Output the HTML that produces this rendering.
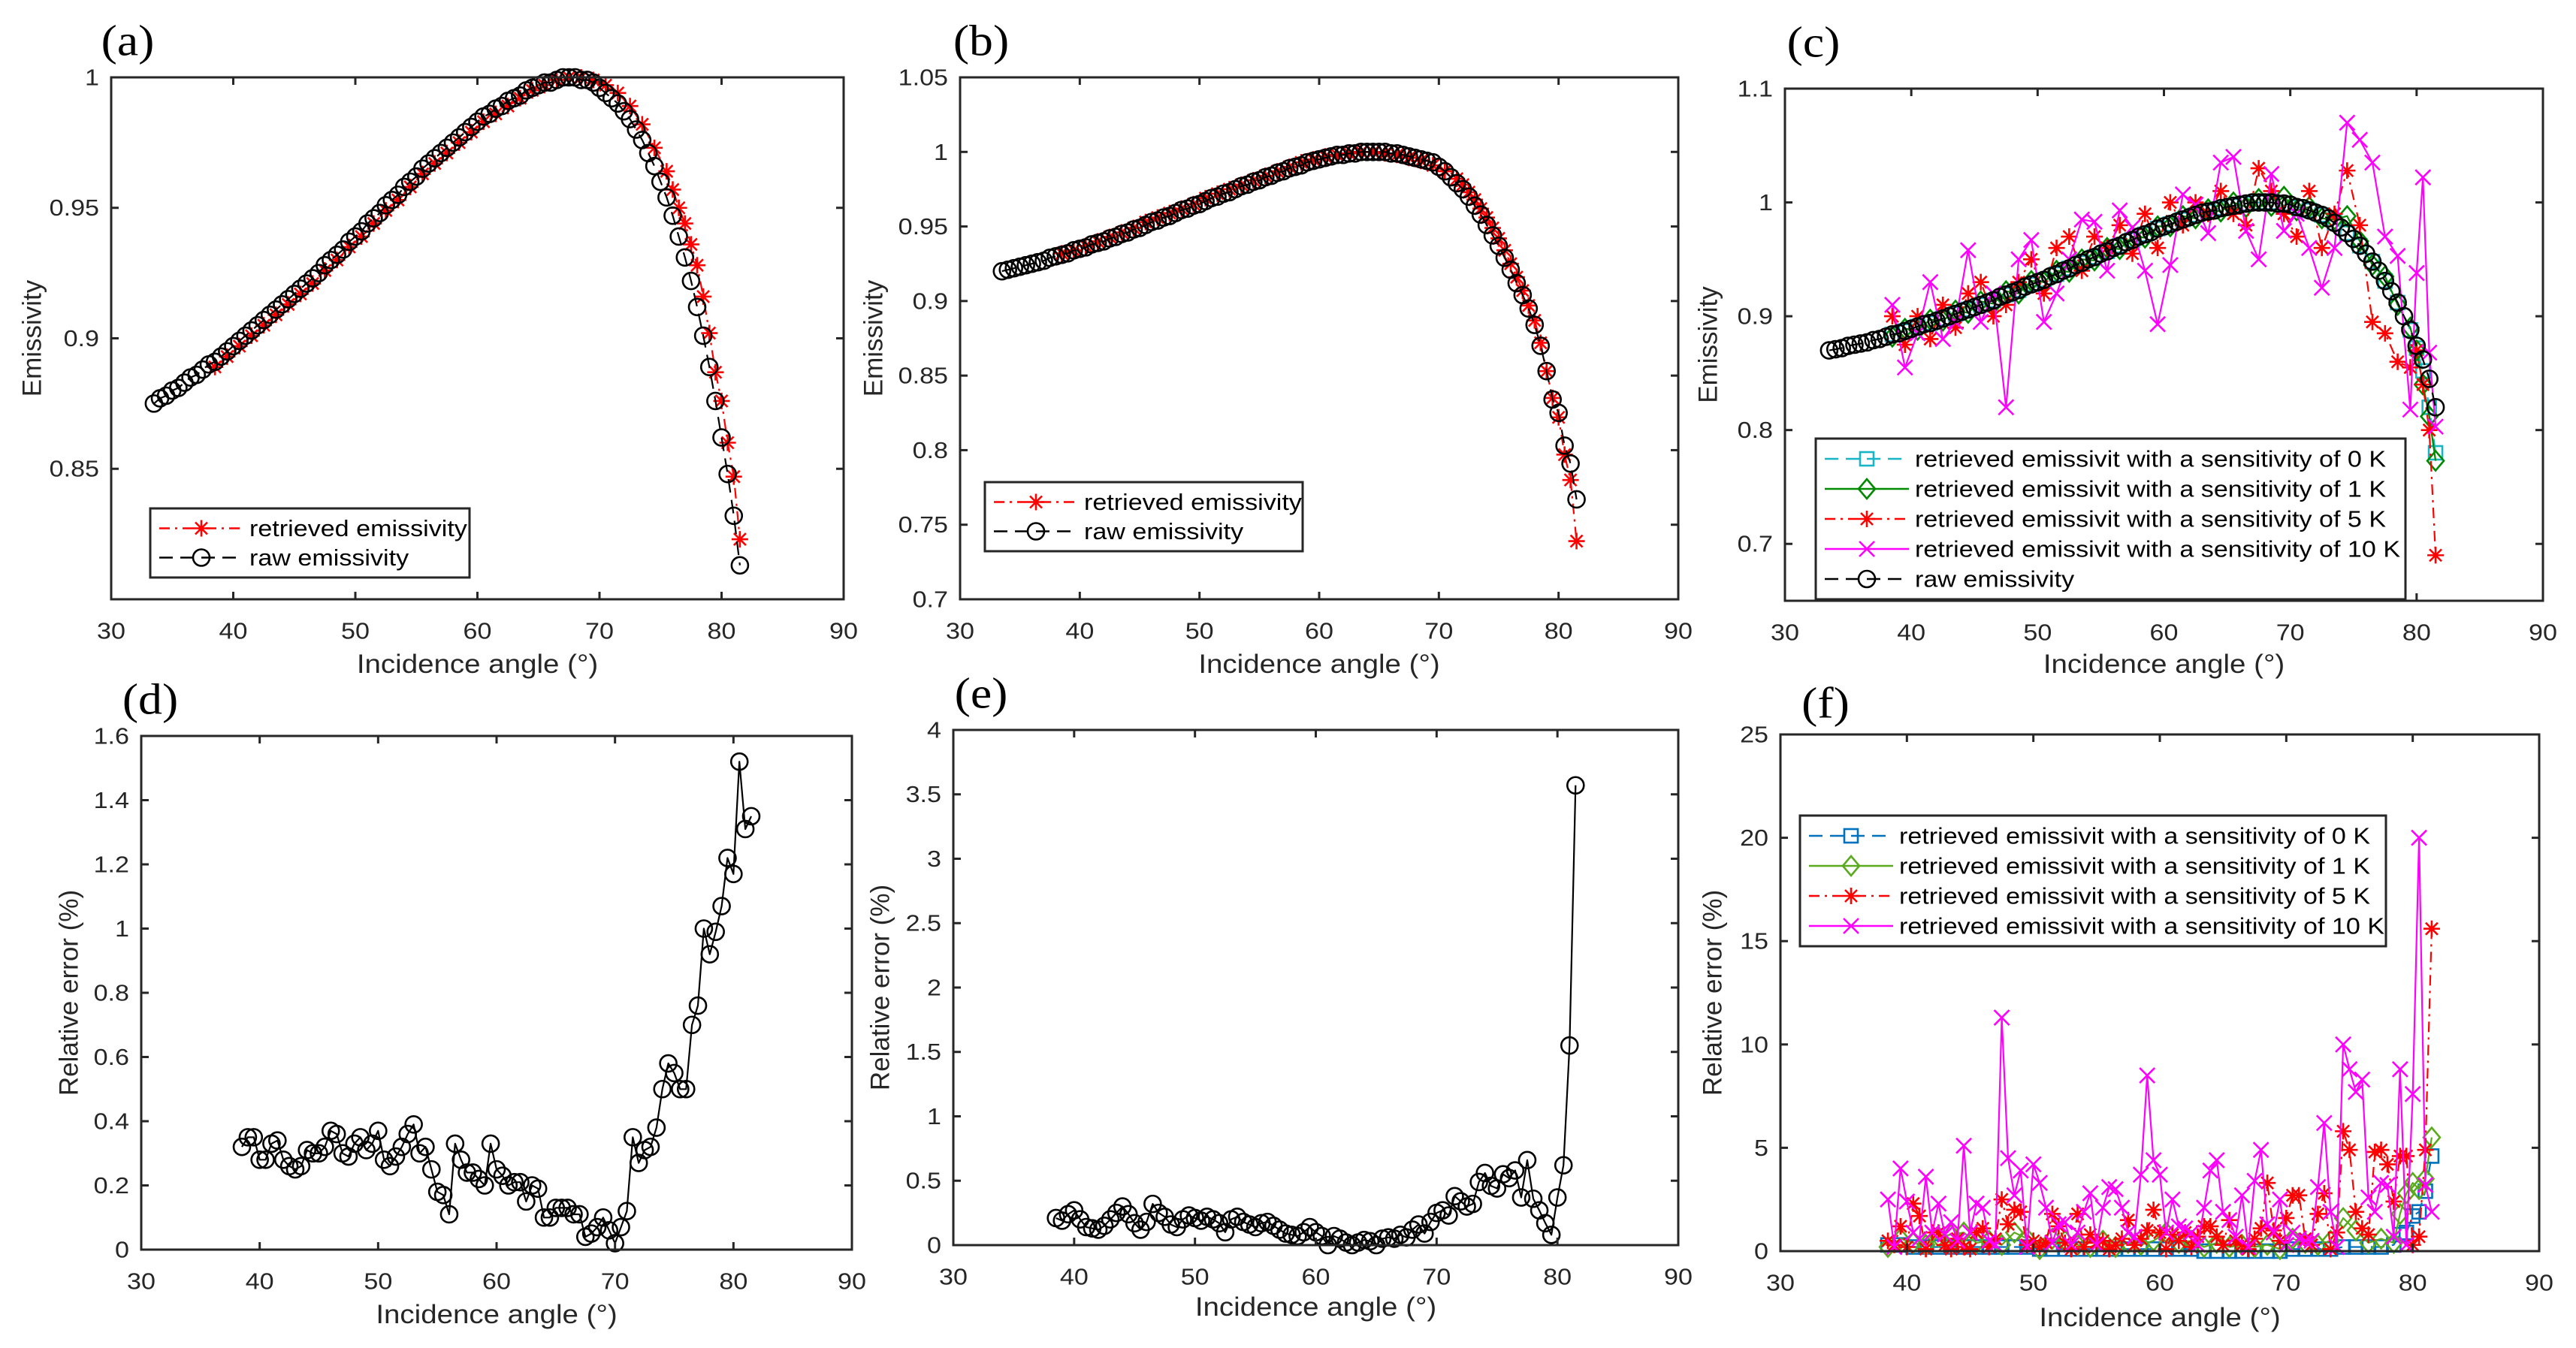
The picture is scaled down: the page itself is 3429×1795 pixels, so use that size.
<!DOCTYPE html>
<html><head><meta charset="utf-8"><title>Emissivity figure</title>
<style>
html,body{margin:0;padding:0;background:#fff;}
svg{display:block;}
text{font-family:"Liberation Sans",Arial,sans-serif;fill:#262626;}
.serif{font-family:"Liberation Serif","Times New Roman",serif;fill:#000;}
</style></head>
<body>
<svg id="fig" xmlns="http://www.w3.org/2000/svg" width="3429" height="1795" viewBox="0 0 3429 1795">
<rect x="0" y="0" width="3429" height="1795" fill="#fff"/>
</svg>
<script>
// ---------------- DATA ----------------
const xTicks = [30,40,50,60,70,80,90];
const xTickLabels = ["30","40","50","60","70","80","90"];

// (a)
const aRawStart = 33.5;
const aRawValues = [.875,.877,.878,.880,.881,.883,.885,.886,.888,.890,.891,.893,.895,.897,.899,.901,.903,.905,.907,.909,.911,.913,.915,.917,.919,.921,.923,.925,.928,.930,.932,.934,.937,.939,.941,.944,.946,.948,.951,.953,.955,.958,.960,.962,.965,.967,.969,.971,.973,.975,.977,.979,.981,.983,.985,.986,.988,.989,.991,.992,.993,.995,.996,.997,.998,.998,.999,1.0,1.0,1.0,.999,.999,.998,.996,.994,.992,.990,.987,.984,.980,.976,.971,.966,.960,.954,.947,.939,.931,.922,.912,.901,.889,.876,.862,.848,.832,.813];
const aRetAngles = [38.5,39.5,40.5,41.5,42.5,43.5,44.5,45.5,46.5,47.5,48.5,49.5,50.5,51.5,52.5,53.5,54.5,55.5,56.5,57.5,58.5,59.5,60.5,61.5,62.5,63.5,64.5,65.5,66.5,67.5,68.5,69.5,70.5,71.5,72.5,73.5,74.5,75.5,76,76.5,77,77.5,78,78.5,79,79.5,80,80.5,81,81.5];
const aRetValues = [.889,.893,.897,.901,.905,.909,.913,.917,.921,.926,.930,.935,.939,.944,.949,.953,.958,.963,.967,.971,.975,.979,.983,.986,.989,.992,.995,.997,.999,1.0,1.0,.999,.997,.994,.989,.982,.973,.964,.957,.950,.944,.936,.928,.916,.902,.887,.876,.860,.847,.823];
const aYTicks = [0.85,0.9,0.95,1];
const aYTickLabels = ["0.85","0.9","0.95","1"];

// (b)
const bRawStart = 33.5;
const bRawValues = [.920,.921,.922,.923,.924,.925,.926,.927,.929,.930,.931,.932,.934,.935,.936,.938,.939,.940,.942,.943,.945,.946,.948,.949,.951,.953,.954,.956,.957,.959,.961,.962,.964,.965,.967,.969,.970,.972,.973,.975,.977,.978,.980,.981,.983,.984,.986,.987,.989,.990,.991,.993,.994,.995,.996,.997,.998,.998,.999,.999,1.0,1.0,1.0,1.0,1.0,.999,.999,.998,.997,.996,.995,.994,.993,.990,.987,.983,.979,.975,.970,.964,.958,.951,.944,.937,.929,.921,.912,.904,.895,.884,.870,.853,.834,.825,.803,.791,.767];
const bRetAngles = [38.5,39.5,40.5,41.5,42.5,43.5,44.5,45.5,46.5,47.5,48.5,49.5,50.5,51.5,52.5,53.5,54.5,55.5,56.5,57.5,58.5,59.5,60.5,61.5,62.5,63.5,64.5,65.5,66.5,67.5,68.5,69.5,70.5,71.5,72,72.5,73,73.5,74,74.5,75,75.5,76,76.5,77,77.5,78,78.5,79,79.5,80,80.5,81,81.5];
const bRetValues = [.932,.934,.937,.940,.943,.946,.949,.953,.956,.959,.962,.965,.969,.972,.975,.978,.981,.984,.987,.990,.993,.995,.997,.998,.999,1.0,1.0,.999,.998,.996,.994,.991,.987,.982,.978,.973,.968,.962,.956,.949,.942,.934,.925,.916,.907,.897,.887,.872,.853,.835,.822,.797,.780,.739];
const bYTicks = [0.7,0.75,0.8,0.85,0.9,0.95,1,1.05];
const bYTickLabels = ["0.7","0.75","0.8","0.85","0.9","0.95","1","1.05"];

// (c)
const cRawStart = 33.5;
const cRawValues = [.870,.871,.872,.874,.875,.876,.877,.879,.880,.882,.884,.885,.887,.889,.891,.893,.894,.896,.898,.900,.902,.904,.906,.908,.910,.912,.914,.917,.919,.921,.923,.926,.928,.930,.932,.935,.937,.940,.942,.945,.947,.950,.952,.955,.957,.960,.962,.965,.967,.970,.972,.974,.977,.979,.981,.983,.985,.987,.989,.991,.992,.993,.995,.996,.997,.998,.999,1.0,1.0,1.0,1.0,.999,.999,.998,.996,.995,.993,.991,.989,.986,.982,.978,.973,.968,.962,.955,.948,.940,.931,.922,.912,.900,.888,.874,.862,.845,.820];
const cAngles = [38.5,39.5,40.5,41.5,42.5,43.5,44.5,45.5,46.5,47.5,48.5,49.5,50.5,51.5,52.5,53.5,54.5,55.5,56.5,57.5,58.5,59.5,60.5,61.5,62.5,63.5,64.5,65.5,66.5,67.5,68.5,69.5,70.5,71.5,72.5,73.5,74.5,75.5,76.5,77.5,78.5,79.5,80,80.5,81,81.5];
const c0KValues = [.884,.887,.891,.894,.898,.902,.906,.910,.914,.919,.923,.928,.932,.937,.942,.947,.952,.957,.962,.967,.972,.977,.981,.985,.989,.992,.995,.997,.999,1.0,1.0,.999,.996,.993,.989,.982,.973,.962,.948,.931,.912,.888,.872,.852,.820,.780];
const c1KValues = [.882,.889,.888,.897,.896,.905,.903,.913,.911,.922,.920,.931,.930,.940,.939,.950,.949,.960,.959,.970,.969,.979,.979,.988,.986,.994,.992,1.0,.996,1.003,.997,1.005,.993,.996,.986,.985,.988,.966,.945,.935,.910,.890,.870,.840,.812,.773];
const c5KValues = [.900,.875,.900,.880,.910,.890,.920,.930,.900,.910,.930,.950,.920,.960,.970,.940,.970,.960,.980,.955,.990,.960,1.0,.980,1.0,.990,1.010,.990,.980,1.030,1.010,.990,.970,1.010,.960,.990,1.028,.980,.895,.885,.860,.855,.870,.840,.800,.690];
const c10KValues = [.910,.855,.885,.930,.880,.895,.958,.895,.920,.820,.950,.967,.895,.920,.950,.985,.983,.940,.993,.978,.940,.893,.945,1.007,.998,.973,1.035,1.040,.975,.950,1.025,.975,.990,.960,.925,.960,1.070,1.055,1.035,.970,.953,.818,.938,1.022,.868,.803];
const cYTicks = [0.7,0.8,0.9,1,1.1];
const cYTickLabels = ["0.7","0.8","0.9","1","1.1"];

// (d)
const dStart = 38.5;
const dValues = [.32,.35,.35,.28,.28,.33,.34,.28,.26,.25,.26,.31,.30,.30,.32,.37,.36,.30,.29,.33,.35,.31,.33,.37,.28,.26,.29,.32,.36,.39,.30,.32,.25,.18,.17,.11,.33,.28,.24,.24,.22,.20,.33,.25,.23,.20,.21,.21,.15,.20,.19,.10,.10,.13,.13,.13,.11,.11,.04,.05,.07,.10,.06,.02,.07,.12,.35,.27,.31,.32,.38,.50,.58,.55,.50,.50,.70,.76,1.0,.92,.99,1.07,1.22,1.17,1.52,1.31,1.35];
const dYTicks = [0,0.2,0.4,0.6,0.8,1,1.2,1.4,1.6];
const dYTickLabels = ["0","0.2","0.4","0.6","0.8","1","1.2","1.4","1.6"];

// (e)
const eStart = 38.5;
const eValues = [.21,.19,.24,.27,.20,.14,.13,.12,.15,.20,.25,.30,.24,.17,.12,.18,.32,.25,.22,.16,.14,.20,.23,.21,.19,.22,.20,.17,.10,.20,.22,.18,.16,.14,.17,.18,.15,.12,.09,.08,.07,.10,.14,.10,.07,.00,.07,.05,.02,.00,.02,.04,.03,.00,.05,.06,.05,.08,.06,.12,.16,.09,.18,.25,.27,.23,.38,.34,.30,.32,.49,.56,.46,.44,.55,.52,.58,.37,.66,.36,.27,.17,.08,.37,.62,1.55,3.57];
const eYTicks = [0,0.5,1,1.5,2,2.5,3,3.5,4];
const eYTickLabels = ["0","0.5","1","1.5","2","2.5","3","3.5","4"];

// (f)
const fAngles = [38.5,39.5,40.5,41.5,42.5,43.5,44.5,45.5,46.5,47.5,48.5,49.5,50.5,51.5,52.5,53.5,54.5,55.5,56.5,57.5,58.5,59.5,60.5,61.5,62.5,63.5,64.5,65.5,66.5,67.5,68.5,69.5,70.5,71.5,72.5,73.5,74.5,75.5,76.5,77.5,78.5,79,79.5,80,80.5,81,81.5];
const f0KValues = [.3,.3,.2,.2,.2,.2,.2,.2,.2,.2,.2,.2,.1,.1,.1,.1,.1,.1,.1,.1,.1,.1,.1,.1,.1,.0,.0,.0,.0,.0,.0,.0,.1,.1,.1,.1,.2,.2,.2,.2,.3,.8,.9,1.7,1.9,2.9,4.6];
const f1KValues = [.2,.6,.4,.3,.7,.8,.9,.4,.5,.3,.9,.6,.1,.6,.5,.3,.2,.5,.2,.4,.3,.5,.9,.4,.5,.2,.4,.2,.3,.2,.3,.1,.6,.4,.3,.5,1.6,1.0,.4,.6,.4,1.8,2.8,3.3,3.0,3.5,5.5];
const f5Start = 38.5;
const f5KValues = [.5,.3,1.2,.2,2.3,1.7,.1,.9,.9,.3,.1,.6,.2,.1,.9,1.1,.2,.6,2.5,1.3,2.0,1.9,.3,.5,.2,.4,1.8,1.2,.4,.1,1.8,.2,.8,.4,.5,.1,.3,.6,1.5,.3,.6,1.0,2.0,.9,.1,.8,.5,.9,.2,.7,1.2,1.2,.7,.3,1.5,.5,.3,.1,.6,1.1,3.3,1.0,.5,1.6,2.7,2.7,.6,.3,1.8,2.8,.1,.9,5.8,4.9,1.9,1.1,.8,4.8,4.9,4.2,2.4,4.6,4.6,.3,.7,4.9,15.6];
const f10Start = 38.5;
const f10KValues = [2.5,.2,4.0,2.4,.9,.6,3.6,.9,2.3,.8,1.4,.5,5.1,.9,2.3,2.1,.5,.3,11.3,4.5,2.7,3.9,.2,4.2,3.3,2.1,.4,1.3,1.4,.3,.9,1.9,2.8,.3,2.1,3.1,3.0,2.1,.9,.7,3.7,8.5,4.4,3.7,.9,2.5,1.2,1.1,.9,.3,2.1,3.9,4.4,1.9,1.5,.7,2.7,.2,3.4,4.9,1.3,.9,2.5,.3,.9,.6,.5,.5,3.1,6.2,1.9,.2,10.0,8.8,7.7,8.3,2.6,1.9,3.3,3.2,.7,8.8,.3,7.6,20.0,3.2,1.9];
const fYTicks = [0,5,10,15,20,25];
const fYTickLabels = ["0","5","10","15","20","25"];

// ---------------- RENDER ----------------
const NS = "http://www.w3.org/2000/svg";
const svg = document.getElementById('fig');
const AX = "#262626";
const SX = 1.1; // horizontal text stretch

function mk(tag, attrs, parent){
  const el = document.createElementNS(NS, tag);
  for (const k in attrs) el.setAttribute(k, attrs[k]);
  (parent||svg).appendChild(el);
  return el;
}
function htext(parent, x, y, str, size, anchor, cls){
  const t = mk('text', {x:0, y:0, 'font-size':size, 'text-anchor':anchor||'middle', 'dominant-baseline':'central', transform:`translate(${x},${y}) scale(${SX},1)`}, parent);
  if (cls) t.setAttribute('class', cls);
  t.textContent = str;
  return t;
}
function seq(start, n){ const a=[]; for(let i=0;i<n;i++) a.push(start+i*0.5); return a; }

function makePanel(p){
  const g = mk('g', {});
  
  
  const sx = v => p.L + (v - 30) / 60 * (p.R - p.L);
  const sy = v => p.B - (v - p.ymin) / (p.ymax - p.ymin) * (p.B - p.T);
  const cid = 'clip-' + p.name;
  const cp = mk('clipPath', {id: cid}, g);
  mk('rect', {x:p.L-30, y:p.T-40, width:p.R-p.L+60, height:p.B-p.T+60}, cp);
  const plot = mk('g', {'clip-path':`url(#${cid})`}, g);
  
  
  const tk = mk('g', {stroke:AX, 'stroke-width':3}, g);
  
  
  xTicks.forEach((v,i) => {
    const x = sx(v);
    mk('line', {x1:x, y1:p.B, x2:x, y2:p.B-10}, tk);
    mk('line', {x1:x, y1:p.T, x2:x, y2:p.T+10}, tk);
    const t = htext(g, x, p.B + 42, xTickLabels[i], 31);
    
    
  });
  p.yticks.forEach((v,i) => {
    const y = sy(v);
    mk('line', {x1:p.L, y1:y, x2:p.L+10, y2:y}, tk);
    mk('line', {x1:p.R, y1:y, x2:p.R-10, y2:y}, tk);
    const t = htext(g, p.L - 16, y, p.ylabels[i], 31, 'end');
    
    
  });
  const box = mk('rect', {x:p.L, y:p.T, width:p.R-p.L, height:p.B-p.T, fill:'none', stroke:AX, 'stroke-width':3}, g);
  
  
  const xl = htext(g, (p.L+p.R)/2, p.xlabY, 'Incidence angle (°)', 35);
  
  
  const yl = mk('text', {x:0, y:0, 'font-size':35, 'text-anchor':'middle', 'dominant-baseline':'central', transform:`translate(${p.ylabX},${(p.T+p.B)/2}) rotate(-90)`}, g);
  yl.textContent = p.ylabel;
  
  
  const lt = htext(g, p.letX, p.letY, p.letter, 58, 'middle', 'serif');
  
  
  return {g, plot, sx, sy};
}

function marker(parent, type, x, y, color){
  const s = {stroke:color, 'stroke-width':2.6, fill:'none'};
  let m;
  if (type === 'o') { m = mk('circle', Object.assign({cx:x, cy:y, r:11}, s), parent); }
  else if (type === '*') {
    m = mk('path', Object.assign({d:`M${x-11},${y}H${x+11}M${x},${y-11}V${y+11}M${x-8},${y-8}L${x+8},${y+8}M${x-8},${y+8}L${x+8},${y-8}`}, s), parent);
  } else if (type === 'x') {
    m = mk('path', Object.assign({d:`M${x-10},${y-10}L${x+10},${y+10}M${x-10},${y+10}L${x+10},${y-10}`}, s), parent);
  } else if (type === 's') { m = mk('rect', Object.assign({x:x-9, y:y-9, width:18, height:18}, s), parent); }
  else if (type === 'd') { m = mk('path', Object.assign({d:`M${x},${y-13}L${x+11},${y}L${x},${y+13}L${x-11},${y}Z`}, s), parent); }
  return m;
}

function series(P, name, xs, ys, color, dash, mtype){
  const g = mk('g', {}, P.plot);
  
  
  const n = Math.min(xs.length, ys.length);
  let d = '';
  for (let i=0;i<n;i++) d += (i?'L':'M') + P.sx(xs[i]).toFixed(1) + ',' + P.sy(ys[i]).toFixed(1);
  const line = mk('path', {d, fill:'none', stroke:color, 'stroke-width':2.2, 'stroke-dasharray':dash||'none', 'stroke-linejoin':'round'}, g);
  
  
  for (let i=0;i<n;i++){
    const m = marker(g, mtype, P.sx(xs[i]), P.sy(ys[i]), color);
    
    
  }
}

function legend(x, y, w, rowH, entries, name){
  const g = mk('g', {});
  
  
  const r = mk('rect', {x, y, width:w, height:rowH*entries.length + 14, fill:'#fff', stroke:AX, 'stroke-width':3}, g);
  
  
  entries.forEach((e, i) => {
    const cy = y + 7 + rowH*(i+0.5);
    const eg = mk('g', {}, g);
    
    
    mk('line', {x1:x+12, y1:cy, x2:x+124, y2:cy, stroke:e.color, 'stroke-width':2.6, 'stroke-dasharray':e.dash||'none'}, eg);
    marker(eg, e.m, x+68, cy, e.color);
    const t = htext(eg, x+132, cy, e.label, 31, 'start');
    t.setAttribute('fill', '#000');
    t.style.fill = '#000';
  });
}

const DASH = '18,10';
const DASHDOT = '14,7,3,7';
const CYAN = '#17b5c6', GREEN1 = '#008a00', RED = '#ff0000', MAG = '#ff00ff', BLUE = '#0072bd', GREEN2 = '#5aaa1e';

const PA = makePanel({name:'panel-a', L:148, R:1123, T:103, B:798, ymin:0.80, ymax:1.0, yticks:aYTicks, ylabels:aYTickLabels, ylabel:'Emissivity', ylabX:43, xlabY:884, letter:'(a)', letX:170, letY:55});
series(PA, 'a-retrieved-series', aRetAngles, aRetValues, RED, DASHDOT, '*');
series(PA, 'a-raw-series', seq(aRawStart, aRawValues.length), aRawValues, '#000', DASH, 'o');
legend(200, 677, 425, 39, [
  {label:'retrieved  emissivity', color:RED, dash:DASHDOT, m:'*'},
  {label:'raw emissivity', color:'#000', dash:DASH, m:'o'}], 'legend-a');

const PB = makePanel({name:'panel-b', L:1278, R:2234, T:103, B:798, ymin:0.7, ymax:1.05, yticks:bYTicks, ylabels:bYTickLabels, ylabel:'Emissivity', ylabX:1163, xlabY:884, letter:'(b)', letX:1306, letY:55});
series(PB, 'b-retrieved-series', bRetAngles, bRetValues, RED, DASHDOT, '*');
series(PB, 'b-raw-series', seq(bRawStart, bRawValues.length), bRawValues, '#000', DASH, 'o');
legend(1311, 642, 423, 39, [
  {label:'retrieved  emissivity', color:RED, dash:DASHDOT, m:'*'},
  {label:'raw emissivity', color:'#000', dash:DASH, m:'o'}], 'legend-b');

const PC = makePanel({name:'panel-c', L:2376, R:3385, T:118, B:800, ymin:0.65, ymax:1.1, yticks:cYTicks, ylabels:cYTickLabels, ylabel:'Emissivity', ylabX:2274, xlabY:884, letter:'(c)', letX:2414, letY:57});
series(PC, 'c-0k-series', cAngles, c0KValues, CYAN, DASH, 's');
series(PC, 'c-1k-series', cAngles, c1KValues, GREEN1, null, 'd');
series(PC, 'c-5k-series', cAngles, c5KValues, RED, DASHDOT, '*');
series(PC, 'c-10k-series', cAngles, c10KValues, MAG, null, 'x');
series(PC, 'c-raw-series', seq(cRawStart, cRawValues.length), cRawValues, '#000', DASH, 'o');
legend(2417, 584, 785, 40, [
  {label:'retrieved emissivit with a sensitivity of 0 K', color:CYAN, dash:DASH, m:'s'},
  {label:'retrieved emissivit with a sensitivity of 1 K', color:GREEN1, m:'d'},
  {label:'retrieved emissivit with a sensitivity of 5 K', color:RED, dash:DASHDOT, m:'*'},
  {label:'retrieved emissivit with a sensitivity of 10 K', color:MAG, m:'x'},
  {label:'raw emissivity', color:'#000', dash:DASH, m:'o'}], 'legend-c');

const PD = makePanel({name:'panel-d', L:188, R:1134, T:980, B:1664, ymin:0, ymax:1.6, yticks:dYTicks, ylabels:dYTickLabels, ylabel:'Relative  error (%)', ylabX:92, xlabY:1750, letter:'(d)', letX:200, letY:932});
series(PD, 'd-error-series', seq(dStart, dValues.length), dValues, '#000', null, 'o');

const PE = makePanel({name:'panel-e', L:1269, R:2234, T:972, B:1658, ymin:0, ymax:4, yticks:eYTicks, ylabels:eYTickLabels, ylabel:'Relative  error (%)', ylabX:1172, xlabY:1740, letter:'(e)', letX:1306, letY:924});
series(PE, 'e-error-series', seq(eStart, eValues.length), eValues, '#000', null, 'o');

const PF = makePanel({name:'panel-f', L:2370, R:3380, T:978, B:1666, ymin:0, ymax:25, yticks:fYTicks, ylabels:fYTickLabels, ylabel:'Relative  error (%)', ylabX:2280, xlabY:1754, letter:'(f)', letX:2430, letY:937});
series(PF, 'f-0k-series', fAngles, f0KValues, BLUE, DASH, 's');
series(PF, 'f-1k-series', fAngles, f1KValues, GREEN2, null, 'd');
series(PF, 'f-5k-series', seq(f5Start, f5KValues.length), f5KValues, RED, DASHDOT, '*');
series(PF, 'f-10k-series', seq(f10Start, f10KValues.length), f10KValues, MAG, null, 'x');
legend(2396, 1086, 780, 40, [
  {label:'retrieved emissivit with a sensitivity of 0 K', color:BLUE, dash:DASH, m:'s'},
  {label:'retrieved emissivit with a sensitivity of 1 K', color:GREEN2, m:'d'},
  {label:'retrieved emissivit with a sensitivity of 5 K', color:RED, dash:DASHDOT, m:'*'},
  {label:'retrieved emissivit with a sensitivity of 10 K', color:MAG, m:'x'}], 'legend-f');
</script>
</body></html>
